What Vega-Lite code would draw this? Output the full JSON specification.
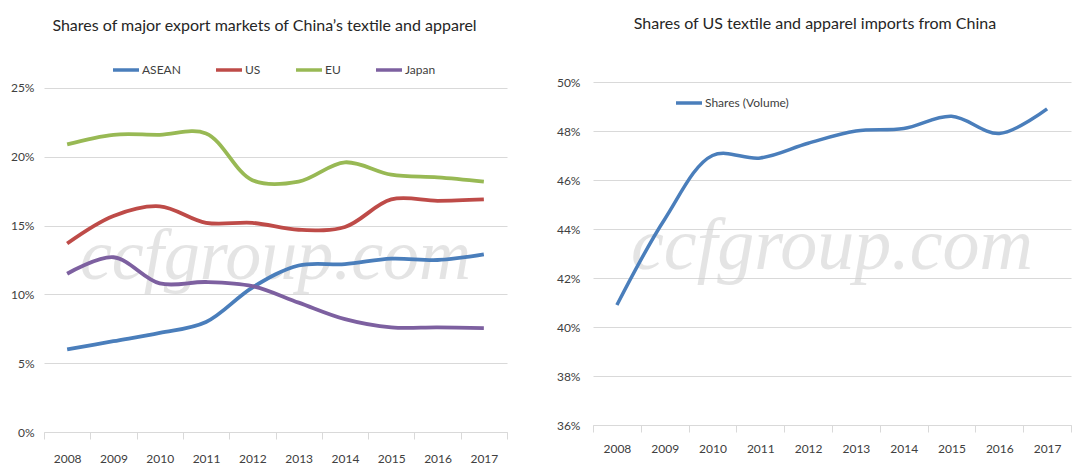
{
  "$schema": "https://vega.github.io/schema/vega-lite/v6.json",
  "padding": {"left": 10, "top": 16, "right": 0, "bottom": 0},
  "spacing": 48,
  "config": {
    "view": {"stroke": null},
    "font": "Lato, Liberation Sans, sans-serif",
    "title": {"font": "Lato", "fontSize": 16, "fontWeight": "normal", "color": "#262626", "anchor": "middle"},
    "axis": {"labelFont": "Lato", "labelFontSize": 12, "labelColor": "#404040", "title": null},
    "axisX": {"labelAngle": 0, "grid": false, "domainColor": "#d9d9d9", "tickColor": "#d9d9d9", "tickSize": 7, "tickBand": "extent"},
    "axisY": {"domain": false, "ticks": false, "grid": true, "gridColor": "#d9d9d9", "labelPadding": 10},
    "legend": {"labelFont": "Lato", "labelFontSize": 12, "labelColor": "#404040", "symbolType": "stroke", "symbolSize": 676, "symbolStrokeWidth": 3.5, "labelOffset": 1, "title": null}
  },
  "hconcat": [
    {
      "title": {"text": "Shares of major export markets of China’s textile and apparel", "dx": -11, "offset": 21},
      "width": 463,
      "height": 350,
      "layer": [
        {
          "data": {"values": [{"w": "ccfgroup.com"}]},
          "mark": {"type": "text", "font": "Liberation Serif", "fontStyle": "italic", "fontSize": 72, "color": "#cfcfcf", "opacity": 0.55, "align": "center", "baseline": "alphabetic"},
          "encoding": {
            "x": {"datum": "2013", "type": "ordinal", "bandPosition": 0},
            "y": {"datum": 0.111, "type": "quantitative"},
            "text": {"field": "w"}
          }
        },
        {
          "data": {"values": [
            {"year": "2008", "market": "ASEAN", "share": 0.060},
            {"year": "2009", "market": "ASEAN", "share": 0.066},
            {"year": "2010", "market": "ASEAN", "share": 0.072},
            {"year": "2011", "market": "ASEAN", "share": 0.080},
            {"year": "2012", "market": "ASEAN", "share": 0.105},
            {"year": "2013", "market": "ASEAN", "share": 0.121},
            {"year": "2014", "market": "ASEAN", "share": 0.122},
            {"year": "2015", "market": "ASEAN", "share": 0.126},
            {"year": "2016", "market": "ASEAN", "share": 0.125},
            {"year": "2017", "market": "ASEAN", "share": 0.129},
            {"year": "2008", "market": "US", "share": 0.137},
            {"year": "2009", "market": "US", "share": 0.157},
            {"year": "2010", "market": "US", "share": 0.164},
            {"year": "2011", "market": "US", "share": 0.152},
            {"year": "2012", "market": "US", "share": 0.152},
            {"year": "2013", "market": "US", "share": 0.147},
            {"year": "2014", "market": "US", "share": 0.149},
            {"year": "2015", "market": "US", "share": 0.169},
            {"year": "2016", "market": "US", "share": 0.168},
            {"year": "2017", "market": "US", "share": 0.169},
            {"year": "2008", "market": "EU", "share": 0.209},
            {"year": "2009", "market": "EU", "share": 0.216},
            {"year": "2010", "market": "EU", "share": 0.216},
            {"year": "2011", "market": "EU", "share": 0.217},
            {"year": "2012", "market": "EU", "share": 0.183},
            {"year": "2013", "market": "EU", "share": 0.182},
            {"year": "2014", "market": "EU", "share": 0.196},
            {"year": "2015", "market": "EU", "share": 0.187},
            {"year": "2016", "market": "EU", "share": 0.185},
            {"year": "2017", "market": "EU", "share": 0.182},
            {"year": "2008", "market": "Japan", "share": 0.115},
            {"year": "2009", "market": "Japan", "share": 0.127},
            {"year": "2010", "market": "Japan", "share": 0.108},
            {"year": "2011", "market": "Japan", "share": 0.109},
            {"year": "2012", "market": "Japan", "share": 0.106},
            {"year": "2013", "market": "Japan", "share": 0.094},
            {"year": "2014", "market": "Japan", "share": 0.082},
            {"year": "2015", "market": "Japan", "share": 0.076},
            {"year": "2016", "market": "Japan", "share": 0.076},
            {"year": "2017", "market": "Japan", "share": 0.0755}
          ]},
          "mark": {"type": "line", "interpolate": "catmull-rom", "strokeWidth": 3.8},
          "encoding": {
            "x": {"field": "year", "type": "ordinal", "bandPosition": 0.5},
            "y": {"field": "share", "type": "quantitative"},
            "color": {
              "field": "market", "type": "nominal",
              "scale": {"domain": ["ASEAN", "US", "EU", "Japan"], "range": ["#4A7EBB", "#BE4B48", "#98B954", "#7D60A0"]},
              "sort": ["ASEAN", "US", "EU", "Japan"],
              "legend": {"orient": "none", "direction": "horizontal", "legendX": 67, "legendY": -27, "columnPadding": 28}
            }
          }
        }
      ],
      "encoding": {
        "x": {"field": "year", "type": "ordinal", "scale": {"type": "band", "paddingInner": 0, "paddingOuter": 0}, "axis": {"labelPadding": 14}},
        "y": {"type": "quantitative", "scale": {"domain": [0, 0.25436], "nice": false, "zero": false}, "axis": {"values": [0, 0.05, 0.1, 0.15, 0.2, 0.25], "format": ".0%"}}
      }
    },
    {
      "title": {"text": "Shares of US textile and apparel imports from China", "dx": -17, "offset": 44},
      "width": 478,
      "height": 343,
      "layer": [
        {
          "data": {"values": [{"w": "ccfgroup.com"}]},
          "mark": {"type": "text", "font": "Liberation Serif", "fontStyle": "italic", "fontSize": 74, "color": "#cfcfcf", "opacity": 0.55, "align": "center", "baseline": "alphabetic"},
          "encoding": {
            "x": {"datum": "2013", "type": "ordinal", "bandPosition": 0},
            "y": {"datum": 0.4237, "type": "quantitative"},
            "text": {"field": "w"}
          }
        },
        {
          "data": {"values": [
            {"year": "2008", "series": "Shares (Volume)", "share": 0.409},
            {"year": "2009", "series": "Shares (Volume)", "share": 0.444},
            {"year": "2010", "series": "Shares (Volume)", "share": 0.470},
            {"year": "2011", "series": "Shares (Volume)", "share": 0.469},
            {"year": "2012", "series": "Shares (Volume)", "share": 0.475},
            {"year": "2013", "series": "Shares (Volume)", "share": 0.480},
            {"year": "2014", "series": "Shares (Volume)", "share": 0.481},
            {"year": "2015", "series": "Shares (Volume)", "share": 0.486},
            {"year": "2016", "series": "Shares (Volume)", "share": 0.479},
            {"year": "2017", "series": "Shares (Volume)", "share": 0.489}
          ]},
          "mark": {"type": "line", "interpolate": "catmull-rom", "strokeWidth": 3.5},
          "encoding": {
            "x": {"field": "year", "type": "ordinal", "bandPosition": 0.5},
            "y": {"field": "share", "type": "quantitative"},
            "color": {
              "field": "series", "type": "nominal",
              "scale": {"range": ["#4A7EBB"]},
              "legend": {"orient": "none", "legendX": 81, "legendY": 6}
            }
          }
        }
      ],
      "encoding": {
        "x": {"field": "year", "type": "ordinal", "scale": {"type": "band", "paddingInner": 0, "paddingOuter": 0}, "axis": {"labelPadding": 11}},
        "y": {"type": "quantitative", "scale": {"domain": [0.36, 0.50], "nice": false, "zero": false}, "axis": {"values": [0.36, 0.38, 0.40, 0.42, 0.44, 0.46, 0.48, 0.50], "format": ".0%", "labelPadding": 13}}
      }
    }
  ],
  "resolve": {"scale": {"color": "independent"}, "legend": {"color": "independent"}}
}
